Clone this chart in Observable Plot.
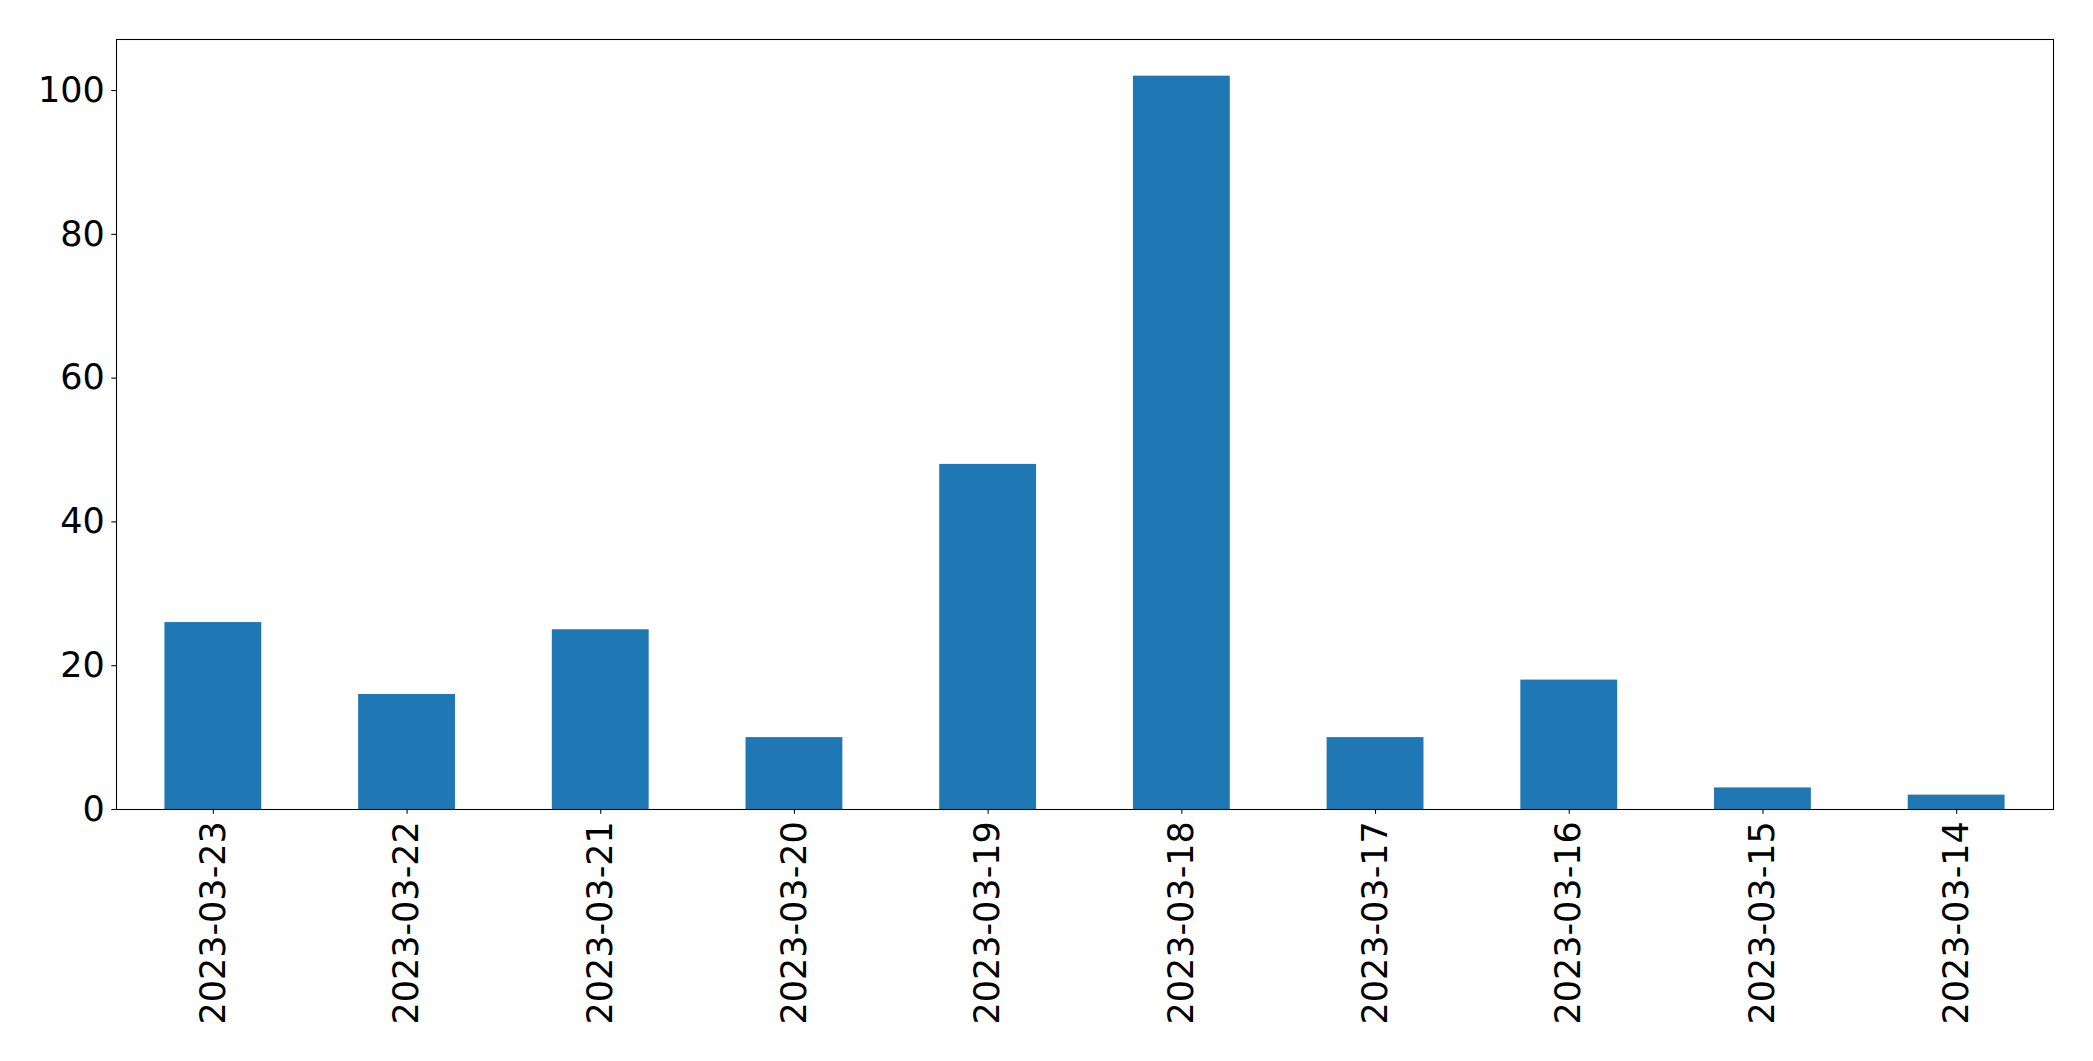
<!DOCTYPE html>
<html>
<head>
<meta charset="utf-8">
<script src="https://cdn.jsdelivr.net/npm/d3@7"></script>
<script src="https://cdn.jsdelivr.net/npm/@observablehq/plot@0.6"></script>
<style>
  html, body { margin: 0; padding: 0; background: #fff; }
  #chart svg { display: block; }
</style>
</head>
<body>
<div id="chart"></div>
<script>
const dates = ["2023-03-23","2023-03-22","2023-03-21","2023-03-20","2023-03-19","2023-03-18","2023-03-17","2023-03-16","2023-03-15","2023-03-14"];
const counts = [26, 16, 25, 10, 48, 102, 10, 18, 3, 2];
const yTicks = [0, 20, 40, 60, 80, 100];

const data = dates.map((d, i) => ({date: d, count: counts[i]}));

const chart = Plot.plot({
  width: 2093,
  height: 1061,
  marginLeft: 116,
  marginRight: 40,
  marginTop: 39,
  marginBottom: 252,
  style: {fontFamily: "'DejaVu Sans', sans-serif", background: "#fff", color: "#000"},
  x: {domain: dates, paddingInner: 0.5, paddingOuter: 0.25, round: false, label: null},
  y: {domain: [0, 107.1], label: null},
  marks: [
    Plot.barY(data, {x: "date", y: "count", fill: "#1f77b4"}),
    Plot.axisY({ticks: yTicks, tickSize: 4.7, tickPadding: 7, fontSize: 35, label: null, strokeWidth: 1.07, stroke: "#000"}),
    Plot.axisX({tickSize: 4.7, tickPadding: 7, tickRotate: -90, fontSize: 35, label: null, strokeWidth: 1.07, stroke: "#000"}),
    Plot.frame({stroke: "#000", strokeWidth: 1.07})
  ]
});
document.getElementById("chart").appendChild(chart);
</script>
</body>
</html>
